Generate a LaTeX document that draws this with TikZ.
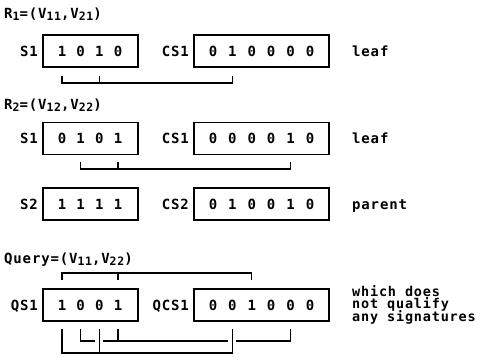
\documentclass[tikz,border=0pt]{standalone}
\usepackage{fontspec}
\newfontfamily\pf{DejaVu Sans Mono}[LetterSpace=6]
\newcommand\sbs[1]{\raisebox{-0.35ex}{\fontsize{11.5}{11.5}\selectfont #1}}
\begin{document}
\begin{tikzpicture}[x=1pt,y=-1pt,
  txt/.style={font=\pf\bfseries\fontsize{14}{14}\selectfont, inner sep=0pt, text height=10pt, text depth=0pt},
  sbox/.style={draw, line width=1.4pt, minimum width=95pt, minimum height=32pt, inner sep=0pt},
  cbox/.style={sbox, minimum width=135pt},
  conn/.style={line width=1.1pt, line join=miter}]
\useasboundingbox (0,0) rectangle (491,357);

% ---------- R1 ----------
\node[txt,anchor=west] (lr1) at (4,13) {R\sbs{1}=(V\sbs{11},V\sbs{21})};
\node[sbox] (sA) at (90.5,51) {};
\node[txt,anchor=east] (lsA) at (38,51) {S1};
\foreach \d [count=\i] in {1,0,1,0} \node[txt] (sA\i) at ({62+18.67*(\i-1)},51) {\d};
\node[cbox] (cA) at (261.5,51) {};
\node[txt,anchor=east] (lcA) at (189,51) {CS1};
\foreach \d [count=\i] in {0,1,0,0,0,0} \node[txt] (cA\i) at ({213+19.4*(\i-1)},51) {\d};
\node[txt,anchor=west] (tA) at (352,51) {leaf};
\coordinate (kAt) at (0,76); \coordinate (kAb) at (0,83);
\draw[conn] (sA1 |- kAt) -- (sA1 |- kAb) -- (cA2 |- kAb) -- (cA2 |- kAt);
\draw[conn] (sA3 |- kAt) -- (sA3 |- kAb);

% ---------- R2 ----------
\node[txt,anchor=west] (lr2) at (4,104) {R\sbs{2}=(V\sbs{12},V\sbs{22})};
\node[sbox] (sB) at (90.5,138.5) {};
\node[txt,anchor=east] (lsB) at (38,138.5) {S1};
\foreach \d [count=\i] in {0,1,0,1} \node[txt] (sB\i) at ({62+18.67*(\i-1)},138.5) {\d};
\node[cbox] (cB) at (261.5,138.5) {};
\node[txt,anchor=east] (lcB) at (189,138.5) {CS1};
\foreach \d [count=\i] in {0,0,0,0,1,0} \node[txt] (cB\i) at ({213+19.4*(\i-1)},138.5) {\d};
\node[txt,anchor=west] (tB) at (352,138.5) {leaf};
\coordinate (kBt) at (0,162); \coordinate (kBb) at (0,169);
\draw[conn] (sB2 |- kBt) -- (sB2 |- kBb) -- (cB5 |- kBb) -- (cB5 |- kBt);
\draw[conn] (sB4 |- kBt) -- (sB4 |- kBb);

% ---------- parent ----------
\node[sbox] (sC) at (90.5,204) {};
\node[txt,anchor=east] (lsC) at (38,204) {S2};
\foreach \d [count=\i] in {1,1,1,1} \node[txt] (sC\i) at ({62+18.67*(\i-1)},204) {\d};
\node[cbox] (cC) at (261.5,204) {};
\node[txt,anchor=east] (lcC) at (189,204) {CS2};
\foreach \d [count=\i] in {0,1,0,0,1,0} \node[txt] (cC\i) at ({213+19.4*(\i-1)},204) {\d};
\node[txt,anchor=west] (tC) at (352,204) {parent};

% ---------- Query ----------
\node[txt,anchor=west] (lq) at (4,258) {Query=(V\sbs{11},V\sbs{22})};
\node[sbox] (sD) at (90.5,305) {};
\node[txt,anchor=east] (lsD) at (38,305) {QS1};
\foreach \d [count=\i] in {1,0,0,1} \node[txt] (sD\i) at ({62+18.67*(\i-1)},305) {\d};
\node[cbox] (cD) at (261.5,305) {};
\node[txt,anchor=east] (lcD) at (189,305) {QCS1};
\foreach \d [count=\i] in {0,0,1,0,0,0} \node[txt] (cD\i) at ({213+19.4*(\i-1)},305) {\d};
\node[font=\pf\bfseries\fontsize{13.5}{12.5}\selectfont, inner sep=0pt, align=left, anchor=north west,
  execute at begin node={\lineskiplimit=-30pt\lineskip=0pt}]
  (tD) at (352,285) {which does\\not qualify\\any signatures};

% upper (query signature)
\coordinate (kDu) at (0,273); \coordinate (kDv) at (0,280);
\draw[conn] (sD1 |- kDv) -- (sD1 |- kDu) -- (cD3 |- kDu) -- (cD3 |- kDv);
\draw[conn] (sD4 |- kDu) -- (sD4 |- kDv);

% lower (V11 and V22)
\coordinate (kLt) at (0,329); \coordinate (kLm) at (0,341); \coordinate (kLb) at (0,353);
\draw[conn] (sD1 |- kLt) -- (sD1 |- kLb) -- (cD2 |- kLb) -- (cD2 |- kLt);
\draw[conn] (sD3 |- kLt) -- (sD3 |- kLb);
\draw[conn] (sD2 |- kLt) -- (sD2 |- kLm) -- ([xshift=-4pt]sD3 |- kLm);
\draw[conn] ([xshift=4pt]sD3 |- kLm) -- ([xshift=-4pt]cD2 |- kLm);
\draw[conn] ([xshift=4pt]cD2 |- kLm) -- (cD5 |- kLm) -- (cD5 |- kLt);
\draw[conn] (sD4 |- kLt) -- (sD4 |- kLm);
\end{tikzpicture}
\end{document}
